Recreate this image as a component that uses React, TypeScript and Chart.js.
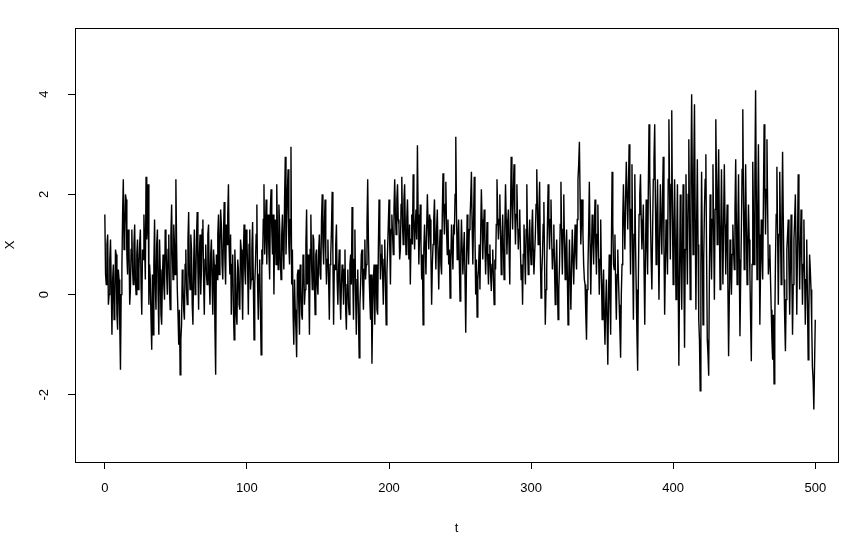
import React, { useEffect, useRef } from "react";
import { Chart, registerables } from "chart.js";

Chart.register(...registerables);

// X at whole t = 0..500 in blocks of 50
const seg0 = [
  1.6, 0.2, 1.2, 0.0, 1.1, -0.8, 0.6, -0.3, 0.8, -0.7,
  0.3, -1.5, 0.5, 2.3, 1.2, 1.9, 0.4, 1.0, 0.1, 1.3,
  0.2, 1.4, 0.0, 1.1, 0.5, 1.3, -0.4, 0.7, 1.0, 2.35,
  1.4, -0.2, 0.3, -1.1, -0.8, 1.5, -0.3, 1.3, -0.8, 0.5,
  -0.6, 0.8, -0.1, 1.1, 0.0, 1.2, -0.3, 1.8, 0.3, 1.0,
];
const seg1 = [
  2.3, 0.1, -1.0, -1.6, -0.6, 0.2, -0.5, 0.9, -0.2, 1.65,
  0.1, 0.9, -0.6, 1.3, 0.2, 1.65, -0.3, 1.2, 0.5, 1.5,
  -0.4, 1.0, 0.2, 1.4, -0.2, 1.1, -0.4, 0.6, -1.6, 0.3,
  1.6, 0.9, 1.4, 0.3, 1.85, 0.2, 1.0, 2.2, 0.4, -0.4,
  0.8, -0.9, 0.4, -0.6, 0.5, -0.3, 0.9, -0.5, 1.4, 0.2,
];
const seg2 = [
  1.1, -0.4, 1.3, 0.3, 1.45, -0.9, 0.6, 1.8, -0.5, 0.7,
  -1.2, 0.6, 2.2, 1.3, 0.6, 1.6, 0.3, 2.1, 0.8, 0.0,
  1.5, 2.2, 0.5, 1.4, 0.3, 1.6, 0.5, 2.75, 1.4, 2.5,
  0.6, 2.95, 0.9, -1.0, -0.3, -1.25, 0.5, -0.8, 0.2, -0.5,
  0.7, 0.1, 1.7, 0.8, -0.8, 1.6, 0.1, 1.1, -0.4, 0.9,
];
const seg3 = [
  0.0, 1.2, 0.3, 2.0, 0.6, 1.9, 0.2, 1.1, -0.5, 0.8,
  2.05, -0.6, 0.5, 1.4, -0.2, 0.9, -0.5, 0.6, -0.2, 0.9,
  -0.7, 0.5, -0.4, 0.8, 1.75, -0.5, 1.3, -0.8, 0.5, -1.26,
  0.2, 0.9, -0.3, 1.1, 0.6, 2.3, 0.4, -0.5, -1.38, 0.3,
  -0.6, 0.6, -0.4, 1.9, 0.3, 1.0, -0.2, 1.1, -0.6, 0.9,
];
const seg4 = [
  1.9, 0.2, 1.6, 0.8, 2.3, 1.2, 2.2, 1.4, 0.9, 2.35,
  1.0, 2.2, 0.8, 1.9, 0.7, 0.2, 1.6, 2.4, 0.9, 1.7,
  2.98, 0.6, 1.8, 0.3, -0.6, 1.4, 0.4, 2.0, 0.9, 1.5,
  -0.2, 1.0, 1.9, 0.5, 1.7, 0.1, 1.3, 0.4, 2.42, 1.2,
  2.25, 0.8, 0.6, -0.07, 1.4, 0.5, 1.2, 3.15, 0.7, 1.5,
];
const seg5 = [
  -0.13, 1.5, 0.4, 1.25, -0.76, 1.6, 0.6, 1.5, 2.45, 0.6,
  2.35, 0.0, -0.45, 0.5, 0.1, 2.1, 0.7, 1.7, 0.4, 1.45,
  0.2, 1.0, 0.07, 0.9, -0.2, 0.5, 2.3, 1.1, 2.0, 0.4,
  1.6, 0.3, 2.2, 0.8, 1.7, 0.2, 2.75, 1.3, 2.6, 1.0,
  2.2, 0.9, 1.7, 0.3, -0.2, 1.4, 0.2, 2.2, 0.4, 1.5,
];
const seg6 = [
  0.6, 1.7, 0.4, 1.2, 2.5, 1.0, 2.25, -0.07, 0.8, 1.85,
  -0.6, 0.5, 2.2, 0.9, 1.9, 0.5, 1.4, -0.2, 1.1, -0.5,
  0.6, 2.25, 0.4, 2.0, 0.3, 1.3, -0.6, 1.1, -0.3, 1.3,
  0.2, 1.4, 0.5, 2.3, 3.05, 1.0, 1.9, 0.6, 0.2, -0.9,
  0.5, 2.25, 0.0, 1.6, 0.6, 1.9, 0.4, 1.8, 0.0, 1.5,
];
const seg7 = [
  -0.5, 0.5, -1.0, 0.3, -1.4, 0.8, -0.8, 2.45, 0.6, 1.2,
  -0.5, 0.9, -0.2, -1.26, 0.6, 2.2, 0.9, 2.65, 1.3, 3.0,
  0.4, 2.6, -0.5, 2.4, 0.1, -1.52, 1.6, 2.4, 0.9, 1.8,
  -0.6, 1.9, 0.4, 3.4, 1.6, 0.1, 2.3, 3.4, 0.6, 2.3,
  -0.1, 2.2, 0.8, 2.75, -0.4, 1.5, 0.4, 3.5, 0.7, 3.68,
];
const seg8 = [
  0.2, 2.3, -0.1, 2.2, -1.42, 2.0, -0.3, 2.2, -1.06, 2.4,
  0.2, 3.1, -0.1, 4.0, 0.8, 3.8, -0.3, 2.7, -0.5, -1.92,
  2.45, -0.6, 1.7, 2.8, -0.9, -1.62, 2.0, 0.3, 2.6, -0.1,
  3.5, 1.0, 2.9, 0.1, 2.5, 0.2, 2.6, 0.4, 1.8, -1.23,
  1.1, 0.0, 1.4, 0.5, 2.7, 0.2, 2.4, -0.83, 1.3, 3.7,
];
const seg9 = [
  0.5, 2.6, 0.2, 1.8, 0.4, -1.33, 2.65, 0.6, 4.08, 0.3,
  3.0, -0.6, 1.5, 0.3, 3.4, 1.2, 3.1, 0.4, 1.0, -0.3,
  -1.3, -1.78, 0.7, 2.55, -0.2, 2.45, 0.2, 2.85, 0.3, -1.13,
  0.9, 1.5, -0.4, 1.6, -0.8, 1.1, 2.0, -0.4, 2.4, 0.1,
  1.7, -0.2, 1.5, -0.6, 1.1, -1.3, 0.8, 0.1, -1.45, -2.29,
  -0.5,
];

// X at half steps t + 0.5 (t = 0..499) in blocks of 50
const half0 = [
  0.4, 1.0, -0.2, 0.7, 0.2, 0.3, -0.5, 0.9, -0.4, 0.5,
  -0.6, 0.0, 1.6, 0.9, 2.0, 0.8, 1.3, -0.2, 0.9, 0.5,
  1.0, 0.3, 0.8, 0.1, 1.0, 0.2, 0.9, 1.6, 0.3, 1.1,
  2.2, 0.6, -0.5, 0.4, 0.6, 0.2, 1.0, 0.0, 1.1, -0.4,
  0.3, 0.2, 1.3, 0.4, 0.9, 0.1, 1.2, 0.8, 1.4, 0.4,
];
const half1 = [
  1.0, -0.4, -0.3, -0.9, 0.5, -0.3, 0.6, 0.1, 1.1, 0.4,
  1.2, -0.2, 0.6, 0.0, 1.1, 0.5, 0.8, 0.0, 1.3, 0.3,
  0.7, 0.4, 1.2, 0.3, 0.8, 0.2, 0.9, -0.7, 0.8, 1.2,
  0.4, 1.7, 0.6, 1.2, 0.7, 1.4, 1.6, 0.9, 1.2, 0.6,
  -0.3, 0.9, -0.4, 0.7, -0.2, 1.1, 0.2, 0.8, 0.5, 1.3,
];
const half2 = [
  0.5, 1.0, 0.1, 0.9, 0.3, 0.2, 1.2, 0.2, 0.4, -0.3,
  0.9, 1.5, 0.8, 1.9, 1.4, 0.8, 1.7, 1.3, 1.6, 1.2,
  0.6, 1.2, 1.8, 0.7, 1.2, 0.9, 1.9, 0.8, 2.1, 1.0,
  1.5, 0.2, -0.4, 0.3, -0.7, 0.4, -0.2, 0.6, -0.4, 0.8,
  -0.2, 1.0, 0.2, 0.3, 0.9, 0.6, 1.2, 0.3, 0.8, 0.2,
];
const half3 = [
  0.9, 0.4, 1.5, 1.0, 1.4, 0.8, 0.7, 0.3, 0.6, 1.3,
  0.8, 0.6, 1.0, 0.3, 0.5, 0.0, 0.2, 0.4, 0.5, -0.3,
  0.2, -0.2, 0.6, 0.2, 0.4, 0.7, 0.0, 0.3, -0.4, -0.2,
  0.8, 0.2, 0.5, 0.3, 1.4, 1.1, -0.1, 0.4, -0.3, 0.6,
  0.4, -0.3, 0.9, 1.2, 0.8, 0.4, 0.7, 0.2, 0.4, 1.4,
];
const half4 = [
  1.0, 1.3, 1.2, 1.7, 1.6, 1.9, 1.5, 0.7, 1.8, 1.4,
  1.9, 1.3, 1.5, 1.2, 1.4, 1.1, 1.0, 1.5, 1.4, 1.1,
  1.6, 1.2, 1.0, 0.8, 0.9, 0.9, 1.3, 1.4, 1.6, 0.8,
  0.6, 1.5, 1.1, 1.3, 0.8, 0.9, 0.6, 1.6, 1.7, 1.8,
  1.3, 1.5, 0.9, 0.7, 0.9, 1.4, 2.0, 1.6, 1.1, 0.6,
];
const half5 = [
  0.8, 0.9, 0.9, 0.3, 0.5, 1.1, 1.3, 1.9, 1.4, 1.5,
  1.2, 0.7, 0.3, 1.0, 1.2, 1.5, 1.3, 1.0, 0.9, 0.7,
  0.8, 0.4, 0.6, 0.3, 0.7, 1.4, 1.6, 1.5, 1.2, 1.1,
  0.9, 1.3, 1.5, 1.4, 0.9, 1.6, 1.9, 2.1, 1.7, 1.6,
  1.5, 1.3, 0.9, 0.6, 0.8, 0.8, 1.3, 1.0, 1.1, 0.9,
];
const half6 = [
  1.3, 0.9, 0.8, 1.8, 1.6, 1.7, 0.8, 0.4, 1.4, 0.6,
  0.1, 1.4, 1.4, 1.5, 1.1, 0.9, 0.5, 0.6, 0.2, 0.1,
  1.4, 1.2, 1.3, 1.0, 0.9, 0.4, 0.3, 0.3, 0.6, 0.7,
  0.9, 0.8, 1.5, 2.6, 1.9, 1.5, 1.2, 0.3, -0.4, 0.1,
  1.3, 1.0, 0.9, 1.1, 1.3, 1.0, 1.2, 0.8, 0.7, 0.4,
];
const half7 = [
  0.1, -0.4, -0.2, -0.6, 0.0, -0.1, 0.9, 1.4, 0.5, 0.2,
  0.4, 0.3, -0.7, 0.0, 1.5, 1.4, 1.9, 2.0, 2.1, 1.6,
  1.7, 0.8, 1.2, 1.0, -0.8, 0.3, 2.0, 1.5, 1.3, 0.5,
  0.8, 1.0, 2.1, 2.4, 0.7, 1.2, 2.7, 1.8, 1.5, 1.0,
  1.2, 1.4, 1.9, 1.0, 0.6, 1.0, 2.3, 2.0, 2.2, 1.5,
];
const half8 = [
  1.4, 1.0, 1.1, 0.3, 0.4, 0.8, 1.0, 0.5, 0.9, 1.2,
  2.0, 1.4, 2.3, 2.2, 2.5, 1.5, 1.4, 1.0, -0.9, 0.6,
  0.9, 0.7, 2.3, 0.8, -1.2, 0.4, 1.1, 1.5, 1.2, 1.7,
  2.2, 2.0, 1.4, 1.3, 1.2, 1.5, 1.4, 1.2, 0.2, -0.1,
  0.5, 0.8, 0.9, 1.7, 1.4, 1.3, 0.7, 0.3, 2.5, 1.8,
];
const half9 = [
  1.5, 1.3, 1.0, 1.1, -0.5, 0.6, 1.6, 2.3, 2.0, 1.6,
  1.2, 0.5, 0.8, 1.9, 2.2, 2.1, 1.7, 0.7, 0.3, -0.9,
  -0.4, -0.6, 1.6, 1.2, 1.2, 1.3, 1.5, 1.5, -0.5, -0.1,
  1.2, 0.5, 0.6, 0.4, 0.2, 1.5, 0.8, 1.0, 1.2, 0.9,
  0.7, 0.6, 0.4, 0.3, -0.1, -0.3, 0.5, -0.6, -1.7, -1.4,
];

const wholeSteps = [...seg0, ...seg1, ...seg2, ...seg3, ...seg4, ...seg5, ...seg6, ...seg7, ...seg8, ...seg9];
const halfSteps = [...half0, ...half1, ...half2, ...half3, ...half4, ...half5, ...half6, ...half7, ...half8, ...half9];

const xTicks = [0, 100, 200, 300, 400, 500];
const yTicks = [-2, 0, 2, 4];
const xTitle = "t";
const yTitle = "X";

const FONT = "'Liberation Sans', Arial, sans-serif";

function buildPoints() {
  const pts: { x: number; y: number }[] = [];
  wholeSteps.forEach((v, t) => {
    pts.push({ x: t, y: v });
    if (t < halfSteps.length) pts.push({ x: t + 0.5, y: halfSteps[t] });
  });
  return pts;
}

const rPlotPlugin = {
  id: "rPlot",
  afterDraw(chart: any) {
    const { ctx, chartArea } = chart;
    const ys = chart.scales.y;
    ctx.save();
    ctx.strokeStyle = "#000";
    ctx.lineWidth = 1;
    ctx.strokeRect(
      Math.round(chartArea.left) + 0.5,
      Math.round(chartArea.top) + 0.5,
      Math.round(chartArea.right - chartArea.left),
      Math.round(chartArea.bottom - chartArea.top)
    );
    ctx.fillStyle = "#000";
    ctx.font = `13px ${FONT}`;
    ctx.textAlign = "center";
    ctx.textBaseline = "middle";
    for (const v of yTicks) {
      const py = ys.getPixelForValue(v);
      ctx.save();
      ctx.translate(chartArea.left - 31, py);
      ctx.rotate(-Math.PI / 2);
      ctx.fillText(String(v), 0, 0);
      ctx.restore();
    }
    ctx.fillText(xTitle, (chartArea.left + chartArea.right) / 2, chartArea.bottom + 66);
    ctx.save();
    ctx.translate(chartArea.left - 65, (chartArea.top + chartArea.bottom) / 2);
    ctx.rotate(-Math.PI / 2);
    ctx.fillText(yTitle, 0, 0);
    ctx.restore();
    ctx.restore();
  },
};

export default function App() {
  const ref = useRef<HTMLCanvasElement | null>(null);

  useEffect(() => {
    if (!ref.current) return;
    const chart = new Chart(ref.current, {
      type: "line",
      data: {
        datasets: [
          {
            data: buildPoints(),
            borderColor: "#000",
            borderWidth: 1.4,
            pointRadius: 0,
            tension: 0,
            fill: false,
          },
        ],
      },
      options: {
        animation: false,
        responsive: false,
        devicePixelRatio: 1,
        layout: { padding: { left: 0, right: 24, top: 28, bottom: 0 } },
        plugins: { legend: { display: false }, tooltip: { enabled: false } },
        scales: {
          x: {
            type: "linear",
            min: -21,
            max: 516,
            afterBuildTicks: (s: any) => {
              s.ticks = xTicks.map((v) => ({ value: v }));
            },
            afterFit: (s: any) => {
              s.height = 76;
            },
            grid: { drawOnChartArea: false, drawTicks: true, tickLength: 7, color: "#000", tickColor: "#000" },
            border: { display: false },
            ticks: {
              color: "#000",
              font: { family: FONT, size: 13 },
              padding: 12,
              maxRotation: 0,
              autoSkip: false,
            },
          },
          y: {
            type: "linear",
            min: -3.34,
            max: 5.32,
            afterBuildTicks: (s: any) => {
              s.ticks = yTicks.map((v) => ({ value: v }));
            },
            afterFit: (s: any) => {
              s.width = 75;
            },
            grid: { drawOnChartArea: false, drawTicks: true, tickLength: 7, color: "#000", tickColor: "#000" },
            border: { display: false },
            ticks: { display: false },
          },
        },
      } as any,
      plugins: [rPlotPlugin],
    });
    return () => chart.destroy();
  }, []);

  return (
    <div style={{ position: "absolute", left: 0, top: 0, width: 862, height: 538, background: "#fff" }}>
      <canvas ref={ref} width={862} height={538} />
    </div>
  );
}
